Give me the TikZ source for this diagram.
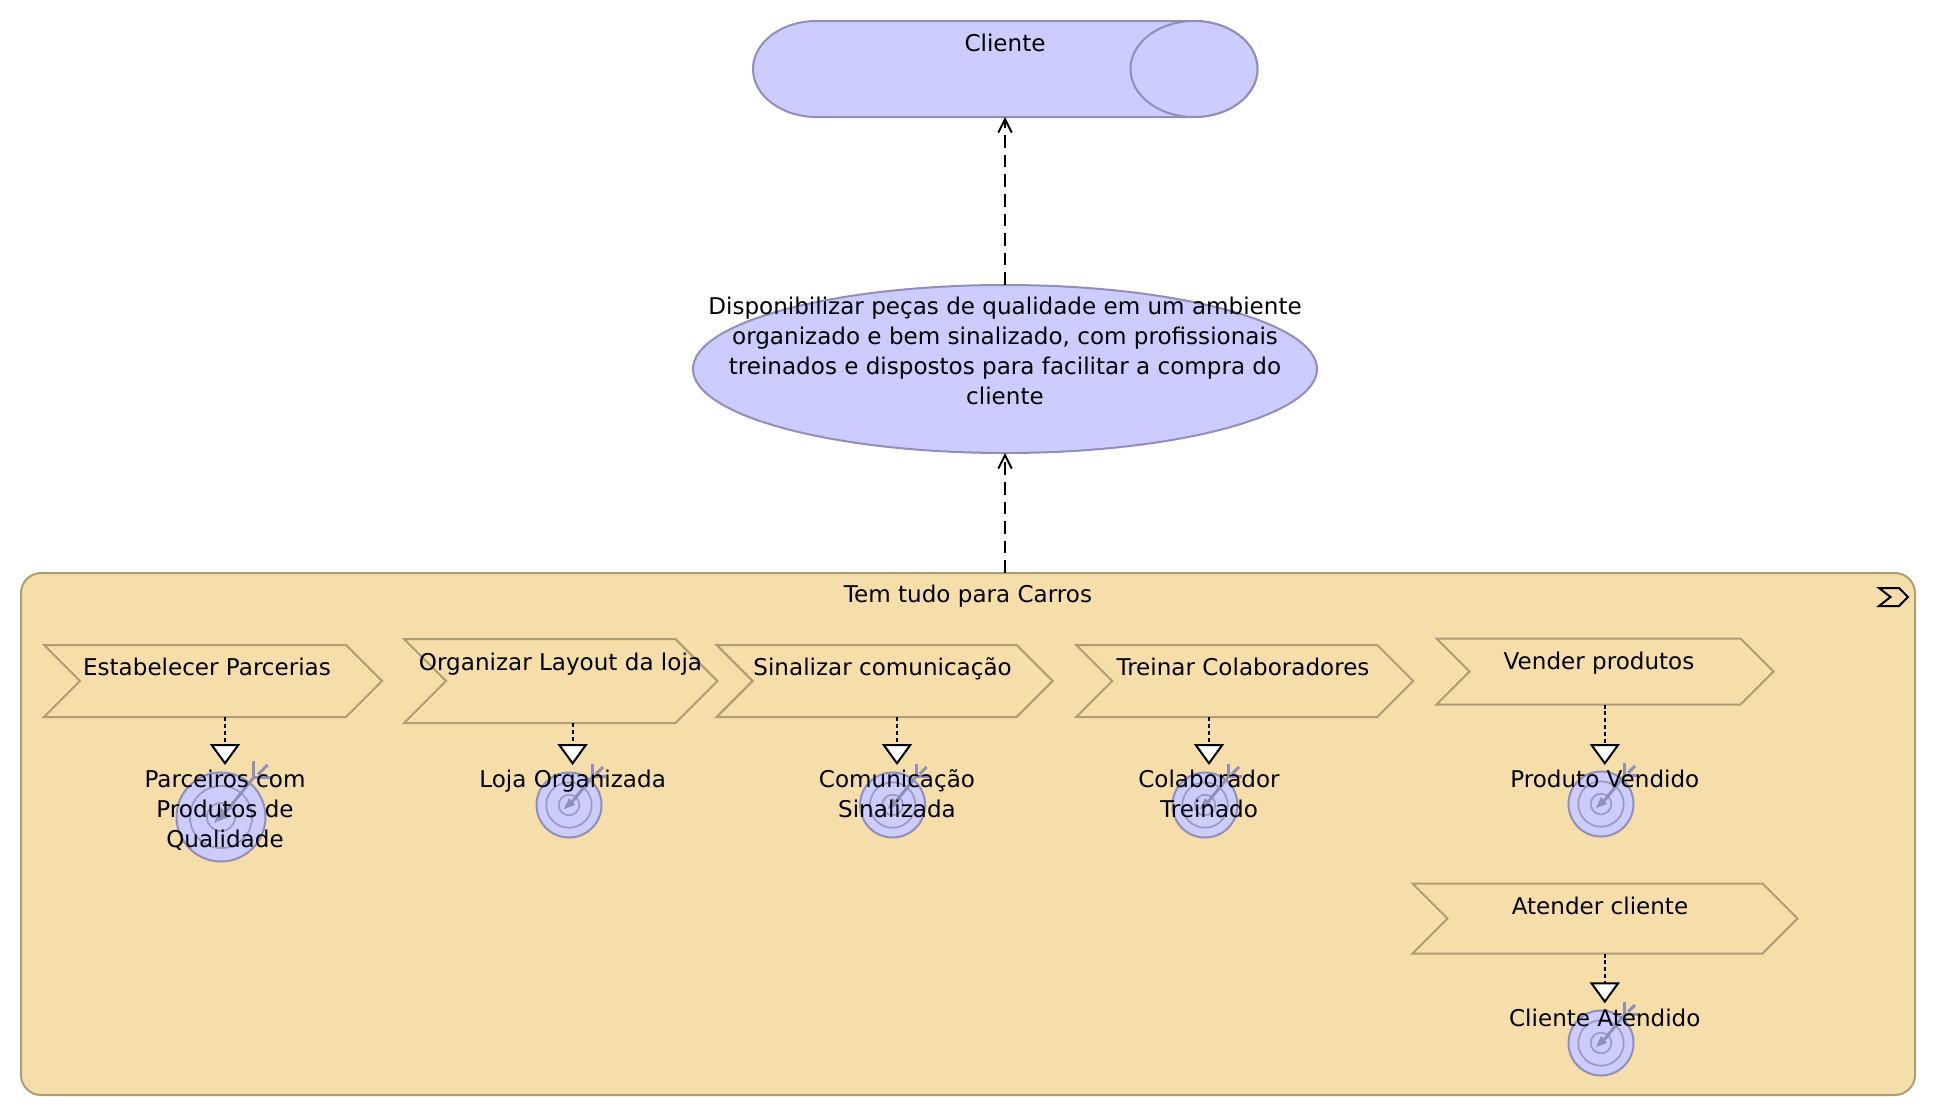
\documentclass[tikz,border=0pt]{standalone}
\usepackage{fontspec}
\setmainfont{DejaVu Sans}
\usetikzlibrary{arrows.meta,shapes.geometric,shapes.symbols}
\definecolor{azulfundo}{HTML}{CCCCFF}
\definecolor{azullinha}{HTML}{8F8FBA}
\definecolor{anelalvo}{HTML}{9B9BBF}
\definecolor{areiafundo}{HTML}{F5DEAA}
\definecolor{areialinha}{HTML}{AD9E73}
\newcommand{\pxu}{0.75pt}
\newcommand{\topo}{\rule{0pt}{17pt}}
\tikzset{
  rotulo/.style={anchor=base, inner sep=0, font=\fontsize{17.3}{22.5}\selectfont},
  bloco/.style={anchor=north, inner sep=0, align=center, font=\fontsize{17.3}{22.5}\selectfont},
  etapa/.style={signal, signal to=east, signal from=west, signal pointer angle=90,
    draw=areialinha, fill=areiafundo, line width=1.5pt, inner sep=0, outer sep=0},
  influencia/.style={draw=black, line width=1.5pt, dash pattern=on 9.5pt off 5.2pt,
    -{Straight Barb[length=10pt,width=10pt]}},
  realiza/.style={draw=black, line width=1.5pt, dash pattern=on 3pt off 2.2pt,
    -{Triangle[fill=white,length=15.75pt,width=22.5pt]}}
}
\begin{document}
\begin{tikzpicture}[x=\pxu,y=-\pxu]
  \useasboundingbox (0,0) rectangle (1936,1118);
  % ator
  \draw[fill=azulfundo,draw=azullinha,line width=1.5pt] (816.5,21) -- (1194,21)
    arc [start angle=-90,end angle=90,x radius=63.5,y radius=48] -- (816.5,117)
    arc [start angle=90,end angle=270,x radius=63.5,y radius=48] -- cycle;
  \draw[draw=azullinha,fill=azulfundo,line width=1.5pt] (1194,69) ellipse (63.5 and 48);
  \node[minimum width=505*\pxu,minimum height=96*\pxu,inner sep=0,outer sep=0] (cliente) at (1005,69) {};
  \node[rotulo] (clientetexto) at (1005,51) {Cliente};

  % valor
  \node[ellipse,draw=azullinha,fill=azulfundo,line width=1.5pt,inner sep=0,outer sep=0,
    minimum width=624*\pxu,minimum height=168*\pxu] (valor) at (1005,369) {};
  \node[bloco] (valortexto) at (1005,292) {\topo Disponibilizar peças de qualidade em um ambiente\\
    organizado e bem sinalizado, com profissionais\\
    treinados e dispostos para facilitar a compra do\\
    cliente};

  % processo
  \node[rectangle,rounded corners=15pt,draw=areialinha,fill=areiafundo,line width=1.5pt,inner sep=0,outer sep=0,
    minimum width=1894*\pxu,minimum height=522*\pxu] (processo) at (968,834) {};
  \node[rotulo] (processotexto) at (968,602) {Tem tudo para Carros};
  \draw[line width=1.5pt,line join=miter] (1879,588) -- (1899,588) -- (1908,597)
    -- (1899,606) -- (1879,606) -- (1890.5,597) -- cycle;

  % etapas
  \node[etapa,minimum width=338*\pxu,minimum height=72*\pxu] (parcerias) at (213,681) {};
  \node[etapa,minimum width=313.4*\pxu,minimum height=84*\pxu] (layout) at (560.7,681) {};
  \node[etapa,minimum width=336*\pxu,minimum height=72*\pxu] (sinalizar) at (884.6,681) {};
  \node[etapa,minimum width=337*\pxu,minimum height=72*\pxu] (treinar) at (1244.7,681) {};
  \node[etapa,minimum width=337*\pxu,minimum height=66*\pxu] (vender) at (1605,671.5) {};
  \node[etapa,minimum width=385*\pxu,minimum height=70*\pxu] (atender) at (1605,918.5) {};
  \node[rotulo] (parceriastexto) at (207,675) {Estabelecer Parcerias};
  \node[rotulo] (layouttexto) at (560.5,670) {Organizar Layout da loja};
  \node[rotulo] (sinalizartexto) at (882.6,675) {Sinalizar comunicação};
  \node[rotulo] (treinartexto) at (1243,675) {Treinar Colaboradores};
  \node[rotulo] (vendertexto) at (1599,669) {Vender produtos};
  \node[rotulo] (atendertexto) at (1600,914.5) {Atender cliente};

  % metas
  \foreach \nome/\x/\y/\r in {alvoa/221/817/44.5,alvob/569/805/32.5,alvoc/892.6/805/32.5,
      alvod/1205/805/32.5,alvoe/1601/804/32.5,alvof/1601/1043/32.5} {
    \pgfmathsetmacro{\s}{\r/32.5}
    \node[circle,draw=azullinha,fill=azulfundo,line width=1.5pt,inner sep=0,outer sep=0,
      minimum size=2*\r*\pxu] (\nome) at (\x,\y) {};
    \begin{scope}[shift={(\x,\y)},scale=\s]
      \draw[anelalvo,line width=1.3pt] (0,0) circle (22.7);
      \draw[anelalvo,line width=1.3pt] (0,0) circle (10.3);
      \fill[azullinha] (-5,4) -- (0,-7) -- (6,0) -- cycle;
      \draw[azullinha,line width=2.2pt] (3,-3) -- (23.7,-28.7);
      \draw[azullinha,line width=2.2pt] (23.7,-41) -- (23.7,-28.7) -- (37,-28.7);
      \draw[azullinha,line width=2.2pt] (27,-31) -- (34,-38);
    \end{scope}
  }
  \node[bloco] (metaa) at (225,765) {\topo Parceiros com\\Produtos de\\Qualidade};
  \node[bloco] (metab) at (572.6,765) {\topo Loja Organizada};
  \node[bloco] (metac) at (897,765) {\topo Comunicação\\Sinalizada};
  \node[bloco] (metad) at (1209,765) {\topo Colaborador\\Treinado};
  \node[bloco] (metae) at (1604.8,765) {\topo Produto Vendido};
  \node[bloco] (metaf) at (1604.8,1003.3) {\topo Cliente Atendido};

  % ligacoes
  \draw[influencia] (valor.north) -- (cliente.south);
  \draw[influencia] (processo.north -| valor.south) -- (valor.south);
  \draw[realiza] (parcerias.south -| metaa.north) -- (metaa.north);
  \draw[realiza] (layout.south -| metab.north) -- (metab.north);
  \draw[realiza] (sinalizar.south -| metac.north) -- (metac.north);
  \draw[realiza] (treinar.south -| metad.north) -- (metad.north);
  \draw[realiza] (vender.south -| metae.north) -- (metae.north);
  \draw[realiza] (atender.south -| metaf.north) -- (metaf.north);
\end{tikzpicture}
\end{document}
